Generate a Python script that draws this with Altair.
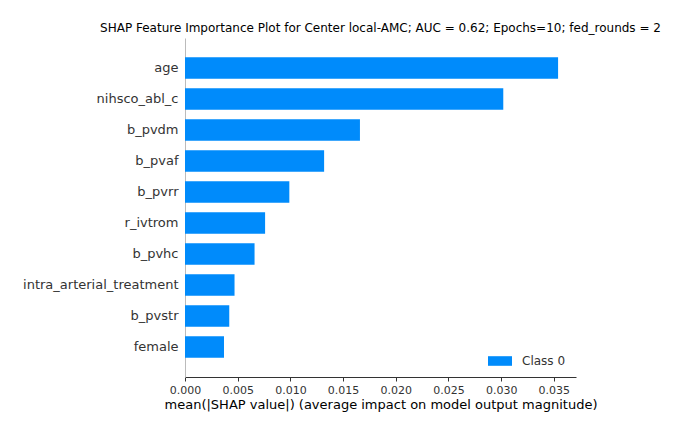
import altair as alt
import pandas as pd

features = ["age", "nihsco_abl_c", "b_pvdm", "b_pvaf", "b_pvrr", "r_ivtrom",
            "b_pvhc", "intra_arterial_treatment", "b_pvstr", "female"]
values = [0.0354, 0.0302, 0.0166, 0.0132, 0.0099, 0.0076, 0.0066, 0.0047, 0.0042, 0.0037]
series = ["Class 0"] * len(features)
x_ticks = [0.0, 0.005, 0.010, 0.015, 0.020, 0.025, 0.030, 0.035]

df = pd.DataFrame({"feature": features, "value": values, "series": series})

FONT = "DejaVu Sans"

chart = alt.Chart(df).mark_bar(color="#008bfb").encode(
    x=alt.X("value:Q",
            scale=alt.Scale(domain=[0, 0.0371], nice=False, zero=True),
            axis=alt.Axis(values=x_ticks, format=".3f", grid=False,
                          title="mean(|SHAP value|) (average impact on model output magnitude)",
                          titleFont=FONT, titleFontSize=13, titleFontWeight="normal",
                          titleColor="#000000", titlePadding=3,
                          labelFont=FONT, labelFontSize=11, labelColor="#333333",
                          labelPadding=3, tickSize=4, tickColor="#333333",
                          domainColor="#333333", labelFlush=False)),
    y=alt.Y("feature:N", sort=features,
            scale=alt.Scale(paddingInner=0.3, paddingOuter=0.6175),
            axis=alt.Axis(title=None, ticks=False, labelFont=FONT, labelFontSize=13,
                          labelColor="#333333", labelPadding=7,
                          domainColor="#bbbbbb")),
    fill=alt.Fill("series:N",
                  scale=alt.Scale(domain=["Class 0"], range=["#008bfb"]),
                  legend=alt.Legend(title=None, orient="none", legendX=303, legendY=311,
                                    symbolType="M-1,-0.4H1V0.4H-1Z", symbolSize=576,
                                    symbolStrokeWidth=0, labelFont=FONT, labelFontSize=12,
                                    labelColor="#333333", labelOffset=10)),
).properties(
    width=391, height=339,
    title=alt.TitleParams(
        "SHAP Feature Importance Plot for Center local-AMC; AUC = 0.62; Epochs=10; fed_rounds = 2",
        font=FONT, fontSize=12, fontWeight="normal", color="#000000", anchor="middle", offset=3),
    autosize=alt.AutoSizeParams(type="none"),
    padding={"left": 177, "top": 30, "right": 100, "bottom": 48},
).configure_view(stroke=None)

chart.save("out.html", embed_options={"renderer": "svg", "actions": False})
